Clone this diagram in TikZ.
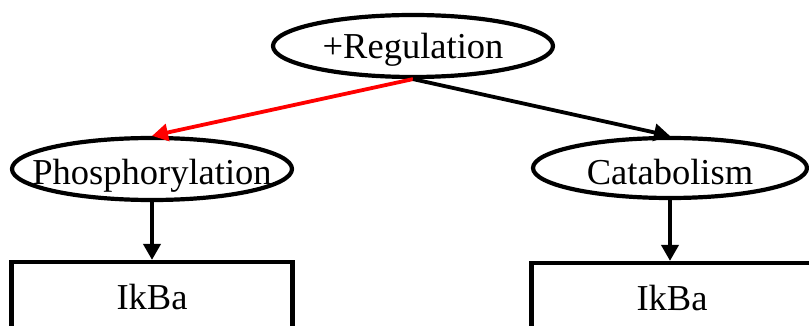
\documentclass[tikz,border=0pt]{standalone}
\usepackage{fontspec}
\setmainfont{Liberation Serif}
\usetikzlibrary{arrows.meta,shapes.geometric}
\tikzset{
  process/.style={draw=black, line width=4.2pt, ellipse, inner sep=0pt,
    minimum width=280pt, minimum height=62pt, text depth=0pt,
    font=\fontsize{36.5}{40}\selectfont},
  gene/.style={draw=black, line width=4.2pt, rectangle, inner sep=0pt,
    minimum width=281pt, minimum height=70pt, font=\fontsize{36.5}{40}\selectfont},
  link/.style={line width=3.8pt, -{Triangle[length=16pt,width=17pt]}},
}
\begin{document}
\begin{tikzpicture}[x=1pt,y=-1pt]
  \useasboundingbox (0,0) rectangle (809,326);
  \begin{scope}
    \clip (0,0) rectangle (809,326);
    \node[process, text height=25pt] (reg) at (413,46) {\makebox[0pt]{+Regulation}};
    \node[process, text height=32pt] (phos) at (152,169) {\makebox[0pt]{Phosphorylation}};
    \node[process, text height=34pt, minimum width=274pt, minimum height=60pt] (cat) at (670,168) {\makebox[0pt]{Catabolism}};
    \node[gene] (ikl) at (152,297) {IkBa};
    \node[gene] (ikr) at (672,298) {IkBa};
  \end{scope}
  \draw[link, red] (reg.south) -- (phos.north);
  \draw[link] (reg.south) -- (cat.north);
  \draw[link] (phos.south) -- (ikl.north);
  \draw[link] (cat.south) -- (cat.south |- ikr.north);
\end{tikzpicture}
\end{document}
